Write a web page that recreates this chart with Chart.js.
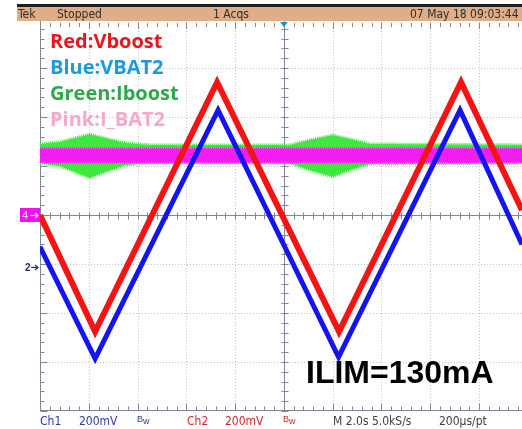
<!DOCTYPE html>
<html>
<head>
<meta charset="utf-8">
<script src="https://cdn.jsdelivr.net/npm/chart.js@4/dist/chart.umd.min.js"></script>
<style>
  html, body { margin: 0; padding: 0; background: #ffffff; overflow: hidden; }
  canvas { display: block; }
</style>
</head>
<body>
<canvas id="scope" width="522" height="429"></canvas>
<script>
// Horizontal axis: graticule divisions (0 = left edge), vertical: divisions from centre line.

// Ch2 (red) boost voltage, triangle vertices
const redX = [0, 1.13, 3.63, 6.13, 8.63, 9.88];
const redY = [0.0, -2.38, 2.71, -2.38, 2.71, 0.10];

// Ch1 (blue) VBAT2 voltage, triangle vertices
const blueX = [0, 1.13, 3.65, 6.12, 8.61, 9.88];
const blueY = [-0.65, -2.93, 2.14, -2.90, 2.14, -0.60];

// Iboost current trace (green), noise envelope
const greenX     = [0, 0.41, 0.72, 1.02, 1.33, 1.74, 2.25, 5.12, 5.53, 6.00, 6.35, 6.76, 9.88];
const greenUpper = [1.45, 1.49, 1.57, 1.65, 1.57, 1.47, 1.43, 1.43, 1.53, 1.63, 1.55, 1.45, 1.43];
const greenLower = [1.06, 1.00, 0.88, 0.76, 0.88, 1.02, 1.06, 1.06, 0.92, 0.78, 0.92, 1.04, 1.06];

// I_BAT2 current trace (pink), noise envelope
const pinkX     = [0, 9.88];
const pinkUpper = [1.35, 1.35];
const pinkLower = [1.08, 1.08];

// Annotation text
const legendLabels = ['Red:Vboost', 'Blue:VBAT2', 'Green:Iboost', 'Pink:I_BAT2'];
const legendColors = ['#e8161e', '#1d9bd8', '#2da84b', '#f5a8c8'];
const noteText = 'ILIM=130mA';
const headerTexts = [['Tek', 18], ['Stopped', 57], ['1 Acqs', 213], ['07 May 18 09:03:44', 410]];
const footerTexts = [
  ['Ch1', 40, '#2a3aa8'], ['200mV', 79, '#2a3aa8'],
  ['Ch2', 187, '#d02828'], ['200mV', 225, '#d02828'],
  ['M 2.0s 5.0kS/s', 333, '#404040'], ['200\u03bcs/pt', 439, '#404040']
];
const bwMarks = [[137, '#2a3aa8'], [283, '#d02828']];

const pts = (xs, ys) => xs.map((v, i) => ({ x: v, y: ys[i] }));

const GREEN = '#3ee83e';
const PINK = '#f21ef2';

const scopeFrame = {
  id: 'scopeFrame',
  beforeDatasetsDraw(chart) {
    const { ctx, chartArea: a, scales: { x, y } } = chart;
    const seg = (x1, y1, x2, y2) => { ctx.beginPath(); ctx.moveTo(x1, y1); ctx.lineTo(x2, y2); ctx.stroke(); };
    ctx.save();
    // dotted graticule
    ctx.strokeStyle = '#c4c4c4';
    ctx.lineWidth = 1;
    ctx.setLineDash([1, 2]);
    for (let i = 1; i <= 10; i++) {
      if (i === 5) continue;
      const px = Math.round(x.getPixelForValue(i)) + 0.5;
      seg(px, a.top, px, a.bottom);
    }
    for (let j = -3; j <= 3; j++) {
      if (j === 0) continue;
      const py = Math.round(y.getPixelForValue(j)) + 0.5;
      seg(a.left, py, a.right, py);
    }
    ctx.setLineDash([]);

    // centre axes, left edge, bottom edge
    ctx.strokeStyle = '#7e8698';
    const cx = Math.round(x.getPixelForValue(5)) + 0.5;
    const cy = Math.round(y.getPixelForValue(0)) + 0.5;
    const lx = Math.round(a.left) + 0.5;
    const by = Math.round(a.bottom) - 0.5;
    seg(a.left, cy, a.right, cy);
    seg(cx, a.top + 2, cx, a.bottom);
    seg(lx, a.top + 2, lx, a.bottom);
    seg(a.left, by, a.right, by);

    // minor ticks every 0.2 div
    for (let k = 0; k <= 50; k++) {
      const v = k / 5;
      if (v > x.max) break;
      const px = Math.round(x.getPixelForValue(v)) + 0.5;
      const major = k % 5 === 0;
      seg(px, cy - 3, px, cy + 4);                       // on horizontal centre line
      seg(px, by, px, by - (major ? 7 : 4));             // bottom edge
      seg(px, a.top + 4, px, a.top + (major ? 10 : 8));  // top edge
    }
    for (let k = -20; k <= 20; k++) {
      const v = k / 5;
      const py = Math.round(y.getPixelForValue(v)) + 0.5;
      const major = k % 5 === 0;
      if (py < a.top + 8) continue;
      seg(cx - 3, py, cx + 4, py);                       // on vertical centre line
      seg(lx, py, lx + (major ? 7 : 4), py);             // left edge
    }
    ctx.restore();
  },
  afterDraw(chart) {
    const { ctx, chartArea: a, scales: { x, y } } = chart;
    ctx.save();

    // header bar
    ctx.fillStyle = '#1e1e1e';
    ctx.fillRect(17, 4, chart.width - 17, 3);
    ctx.fillStyle = '#dfae88';
    ctx.fillRect(17, 7, chart.width - 17, 14);
    ctx.fillStyle = '#2e2e2e';
    ctx.font = '12px "Liberation Sans Narrow", "DejaVu Sans Condensed", sans-serif';
    ctx.textBaseline = 'alphabetic';
    headerTexts.forEach(([t, px]) => ctx.fillText(t, px, 18));

    // trigger position marker
    const tx = x.getPixelForValue(5);
    ctx.fillStyle = '#1f8fe0';
    ctx.beginPath();
    ctx.moveTo(tx - 4, a.top + 3);
    ctx.lineTo(tx + 4, a.top + 3);
    ctx.lineTo(tx, a.top + 8);
    ctx.closePath();
    ctx.fill();

    // channel reference markers
    const y4 = y.getPixelForValue(0);
    ctx.fillStyle = '#f010f0';
    ctx.fillRect(20, y4 - 7, 20, 14);
    ctx.fillStyle = '#fbd8fb';
    ctx.font = '11px "Liberation Sans Narrow", sans-serif';
    ctx.fillText('4', 22, y4 + 4);
    ctx.strokeStyle = '#fbd8fb';
    ctx.lineWidth = 1.2;
    ctx.beginPath(); ctx.moveTo(30, y4 + 0.5); ctx.lineTo(38, y4 + 0.5); ctx.stroke();
    ctx.beginPath(); ctx.moveTo(35, y4 - 2); ctx.lineTo(38, y4 + 0.5); ctx.lineTo(35, y4 + 3); ctx.stroke();

    const y2 = y.getPixelForValue(-1.06);
    ctx.fillStyle = '#262680';
    ctx.font = 'bold 10px "Liberation Sans Narrow", sans-serif';
    ctx.fillText('2', 25, y2 + 4);
    ctx.strokeStyle = '#262680';
    ctx.beginPath(); ctx.moveTo(31, y2 + 0.5); ctx.lineTo(38, y2 + 0.5); ctx.stroke();
    ctx.beginPath(); ctx.moveTo(35, y2 - 2); ctx.lineTo(38, y2 + 0.5); ctx.lineTo(35, y2 + 3); ctx.stroke();

    // trace legend
    ctx.font = 'bold 20px "Open Sans", "Noto Sans", sans-serif';
    legendLabels.forEach((t, i) => {
      ctx.fillStyle = legendColors[i];
      ctx.fillText(t, 50, 48 + i * 26);
    });

    // current limit note
    ctx.fillStyle = '#000000';
    ctx.font = 'bold 32px "Liberation Sans", Arial, sans-serif';
    ctx.fillText(noteText, 306, 383);

    // footer readout
    ctx.font = '12px "Liberation Sans Narrow", "DejaVu Sans Condensed", sans-serif';
    footerTexts.forEach(([t, px, c]) => { ctx.fillStyle = c; ctx.fillText(t, px, 425); });
    ctx.font = '9px "Liberation Sans Narrow", sans-serif';
    bwMarks.forEach(([px, c]) => {
      ctx.fillStyle = c;
      ctx.fillText('B', px, 422);
      ctx.fillText('w', px + 6, 424);
    });
    ctx.restore();
  }
};

const bandStyle = (color, fill) => ({
  borderColor: color,
  backgroundColor: color,
  borderWidth: 3,
  borderDash: [1, 1],
  pointRadius: 0,
  tension: 0,
  fill: fill
});

new Chart(document.getElementById('scope'), {
  type: 'line',
  data: {
    datasets: [
      Object.assign({ label: 'Iboost hi', data: pts(greenX, greenUpper), order: 4 }, bandStyle(GREEN, '+1')),
      Object.assign({ label: 'Iboost lo', data: pts(greenX, greenLower), order: 4 }, bandStyle(GREEN, false)),
      Object.assign({ label: 'I_BAT2 hi', data: pts(pinkX, pinkUpper), order: 3 }, bandStyle(PINK, '+1')),
      Object.assign({ label: 'I_BAT2 lo', data: pts(pinkX, pinkLower), order: 3 }, bandStyle(PINK, false)),
      {
        label: 'Vboost', data: pts(redX, redY), order: 1,
        borderColor: '#f41414', borderWidth: 6, pointRadius: 0, tension: 0,
        borderJoinStyle: 'miter', fill: false
      },
      {
        label: 'VBAT2', data: pts(blueX, blueY), order: 0,
        borderColor: '#1414ee', borderWidth: 5, pointRadius: 0, tension: 0,
        borderJoinStyle: 'miter', fill: false
      }
    ]
  },
  options: {
    responsive: false,
    animation: false,
    devicePixelRatio: 1,
    layout: { padding: { left: 40, top: 19, right: 0, bottom: 18 } },
    plugins: { legend: { display: false }, tooltip: { enabled: false } },
    scales: {
      x: { type: 'linear', min: 0, max: 9.88, display: false },
      y: { type: 'linear', min: -4, max: 4, display: false }
    }
  },
  plugins: [scopeFrame]
});
</script>
</body>
</html>
